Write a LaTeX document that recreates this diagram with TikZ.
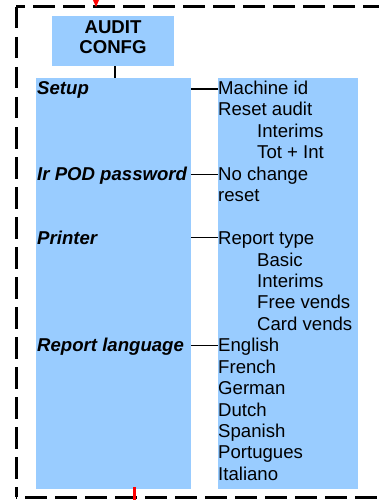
\documentclass[tikz,border=0pt]{standalone}
\usepackage{fontspec}
\setmainfont{Liberation Sans}
\usetikzlibrary{calc}
\definecolor{boxblue}{RGB}{153,204,255}
\begin{document}
\begin{tikzpicture}[x=1pt,y=-1pt,
  bluebox/.style={fill=boxblue,draw=none,inner sep=0pt,anchor=north west},
  item/.style={anchor=base west,inner sep=0pt,font=\fontsize{18.6}{21.4}\selectfont},
  lbl/.style={anchor=base west,inner sep=0pt,font=\fontsize{18.6}{21.4}\selectfont\bfseries\itshape},
  ttl/.style={anchor=base,inner sep=0pt,font=\fontsize{18.6}{21.4}\selectfont\bfseries},
  conn/.style={line width=1.5pt},
  frame/.style={line width=3pt,dash pattern=on 21.5pt off 8.5pt}]
\useasboundingbox (0,0) rectangle (379,500);

% dashed frame
\draw[frame,dash phase=13pt] (16,7) -- (395,7);
\draw[frame] (16,7) -- (16,497);
\draw[frame,dash phase=21pt] (16,497) -- (395,497);

% boxes
\node[bluebox,minimum width=122pt,minimum height=50pt] (audit) at (52,16) {};
\node[ttl] (t1) at (113,33.3) {AUDIT};
\node[ttl] (t2) at (113,54) {CONFG};
\node[bluebox,minimum width=155pt,minimum height=411pt] (leftbox) at (36,78) {};
\node[bluebox,minimum width=140pt,minimum height=411pt] (rightbox) at (218,78) {};

% connector audit -> left box
\draw[conn] ($(audit.south)+(2,0)$) -- ($(leftbox.north)+(1.5,0)$);

% left labels
\node[lbl] (l0) at (37,94.5) {Setup};
\node[lbl] (l4) at (37,94.5+4*21.44) {Ir POD password};
\node[lbl] (l7) at (37,94.5+7*21.44) {Printer};
\node[lbl] (l12) at (37,94.5+12*21.44) {Report language};

% right items
\foreach \r/\ind/\t in {0/0/Machine id, 1/0/Reset audit, 2/1/Interims, 3/1/Tot + Int,
  4/0/No change, 5/0/reset, 7/0/Report type, 8/1/Basic, 9/1/Interims, 10/1/Free vends,
  11/1/Card vends, 12/0/English, 13/0/French, 14/0/German, 15/0/Dutch, 16/0/Spanish,
  17/0/Portugues, 18/0/Italiano}
  \node[item] (r\r) at (218+39*\ind,94.5+21.44*\r) {\t};

% connectors between boxes
\coordinate (c0) at (0,89);
\coordinate (c4) at (0,174.3);
\coordinate (c7) at (0,237.5);
\coordinate (c12) at (0,345.3);
\foreach \c in {c0,c4,c7,c12}
  \draw[conn] (leftbox.east |- \c) -- (rightbox.west |- \c);

% red entry / exit
\coordinate (inTip) at (96,7);
\fill[red] (92.5,-1) -- (99.5,-1) -- (inTip) -- cycle;
\coordinate (outTop) at (134.7,487);
\coordinate (outBot) at (134.7,505);
\draw[red,line width=2.7pt] (outTop) -- (outBot);
\end{tikzpicture}
\end{document}
